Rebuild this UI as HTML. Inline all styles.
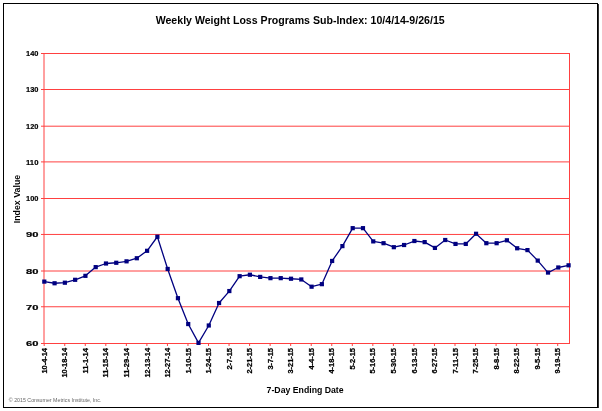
<!DOCTYPE html><html><head><meta charset="utf-8"><style>html,body{margin:0;padding:0;background:#fff;overflow:hidden;}svg{display:block;will-change:transform;font-family:"Liberation Sans",sans-serif;}</style></head><body>
<svg width="602" height="411" viewBox="0 0 602 411">
<rect x="0" y="0" width="602" height="411" fill="#fff"/>
<rect x="3" y="3" width="595" height="1" fill="#000"/>
<rect x="3" y="3" width="1" height="405" fill="#000"/>
<rect x="597" y="3" width="1" height="405" fill="#000"/>
<rect x="598" y="4" width="1" height="404" fill="#333"/>
<rect x="3" y="407" width="595" height="1" fill="#000"/>
<line x1="41" y1="53.50" x2="570.00" y2="53.50" stroke="#ff4040" stroke-width="1"/>
<text x="38.4" y="56.40" font-size="8" font-weight="bold" text-anchor="end" stroke="#000" stroke-width="0.2" textLength="12.4" lengthAdjust="spacingAndGlyphs" fill="#000">140</text>
<line x1="41" y1="89.50" x2="570.00" y2="89.50" stroke="#ff4040" stroke-width="1"/>
<text x="38.4" y="92.40" font-size="8" font-weight="bold" text-anchor="end" stroke="#000" stroke-width="0.2" textLength="12.4" lengthAdjust="spacingAndGlyphs" fill="#000">130</text>
<line x1="41" y1="126.20" x2="570.00" y2="126.20" stroke="#ff4040" stroke-width="1"/>
<text x="38.4" y="129.10" font-size="8" font-weight="bold" text-anchor="end" stroke="#000" stroke-width="0.2" textLength="12.4" lengthAdjust="spacingAndGlyphs" fill="#000">120</text>
<line x1="41" y1="161.90" x2="570.00" y2="161.90" stroke="#ff4040" stroke-width="1"/>
<text x="38.4" y="164.80" font-size="8" font-weight="bold" text-anchor="end" stroke="#000" stroke-width="0.2" textLength="12.4" lengthAdjust="spacingAndGlyphs" fill="#000">110</text>
<line x1="41" y1="198.50" x2="570.00" y2="198.50" stroke="#ff4040" stroke-width="1"/>
<text x="38.4" y="201.40" font-size="8" font-weight="bold" text-anchor="end" stroke="#000" stroke-width="0.2" textLength="12.4" lengthAdjust="spacingAndGlyphs" fill="#000">100</text>
<line x1="41" y1="234.45" x2="570.00" y2="234.45" stroke="#ff4040" stroke-width="1"/>
<text x="38.4" y="237.35" font-size="8" font-weight="bold" text-anchor="end" stroke="#000" stroke-width="0.2" textLength="12.4" lengthAdjust="spacingAndGlyphs" fill="#000">90</text>
<line x1="41" y1="271.00" x2="570.00" y2="271.00" stroke="#ff4040" stroke-width="1"/>
<text x="38.4" y="273.90" font-size="8" font-weight="bold" text-anchor="end" stroke="#000" stroke-width="0.2" textLength="12.4" lengthAdjust="spacingAndGlyphs" fill="#000">80</text>
<line x1="41" y1="306.75" x2="570.00" y2="306.75" stroke="#ff4040" stroke-width="1"/>
<text x="38.4" y="309.65" font-size="8" font-weight="bold" text-anchor="end" stroke="#000" stroke-width="0.2" textLength="12.4" lengthAdjust="spacingAndGlyphs" fill="#000">70</text>
<line x1="41" y1="343.50" x2="570.00" y2="343.50" stroke="#ff4040" stroke-width="1"/>
<text x="38.4" y="346.40" font-size="8" font-weight="bold" text-anchor="end" stroke="#000" stroke-width="0.2" textLength="12.4" lengthAdjust="spacingAndGlyphs" fill="#000">60</text>
<line x1="44.00" y1="53.0" x2="44.00" y2="344.0" stroke="#ff4040" stroke-width="1"/>
<line x1="569.50" y1="53.0" x2="569.50" y2="344.0" stroke="#ff4040" stroke-width="1"/>
<line x1="44.20" y1="343.5" x2="44.20" y2="346" stroke="#ff4040" stroke-width="1"/>
<text transform="translate(46.80,348.0) rotate(-90)" font-size="7.5" font-weight="bold" text-anchor="end" stroke="#000" stroke-width="0.25" textLength="25.60" lengthAdjust="spacingAndGlyphs" fill="#000">10-4-14</text>
<line x1="64.74" y1="343.5" x2="64.74" y2="346" stroke="#ff4040" stroke-width="1"/>
<text transform="translate(67.34,348.0) rotate(-90)" font-size="7.5" font-weight="bold" text-anchor="end" stroke="#000" stroke-width="0.25" textLength="29.60" lengthAdjust="spacingAndGlyphs" fill="#000">10-18-14</text>
<line x1="85.28" y1="343.5" x2="85.28" y2="346" stroke="#ff4040" stroke-width="1"/>
<text transform="translate(87.88,348.0) rotate(-90)" font-size="7.5" font-weight="bold" text-anchor="end" stroke="#000" stroke-width="0.25" textLength="25.60" lengthAdjust="spacingAndGlyphs" fill="#000">11-1-14</text>
<line x1="105.82" y1="343.5" x2="105.82" y2="346" stroke="#ff4040" stroke-width="1"/>
<text transform="translate(108.42,348.0) rotate(-90)" font-size="7.5" font-weight="bold" text-anchor="end" stroke="#000" stroke-width="0.25" textLength="29.60" lengthAdjust="spacingAndGlyphs" fill="#000">11-15-14</text>
<line x1="126.36" y1="343.5" x2="126.36" y2="346" stroke="#ff4040" stroke-width="1"/>
<text transform="translate(128.96,348.0) rotate(-90)" font-size="7.5" font-weight="bold" text-anchor="end" stroke="#000" stroke-width="0.25" textLength="29.60" lengthAdjust="spacingAndGlyphs" fill="#000">11-29-14</text>
<line x1="146.90" y1="343.5" x2="146.90" y2="346" stroke="#ff4040" stroke-width="1"/>
<text transform="translate(149.50,348.0) rotate(-90)" font-size="7.5" font-weight="bold" text-anchor="end" stroke="#000" stroke-width="0.25" textLength="29.60" lengthAdjust="spacingAndGlyphs" fill="#000">12-13-14</text>
<line x1="167.44" y1="343.5" x2="167.44" y2="346" stroke="#ff4040" stroke-width="1"/>
<text transform="translate(170.04,348.0) rotate(-90)" font-size="7.5" font-weight="bold" text-anchor="end" stroke="#000" stroke-width="0.25" textLength="29.60" lengthAdjust="spacingAndGlyphs" fill="#000">12-27-14</text>
<line x1="187.98" y1="343.5" x2="187.98" y2="346" stroke="#ff4040" stroke-width="1"/>
<text transform="translate(190.58,348.0) rotate(-90)" font-size="7.5" font-weight="bold" text-anchor="end" stroke="#000" stroke-width="0.25" textLength="25.60" lengthAdjust="spacingAndGlyphs" fill="#000">1-10-15</text>
<line x1="208.52" y1="343.5" x2="208.52" y2="346" stroke="#ff4040" stroke-width="1"/>
<text transform="translate(211.12,348.0) rotate(-90)" font-size="7.5" font-weight="bold" text-anchor="end" stroke="#000" stroke-width="0.25" textLength="25.60" lengthAdjust="spacingAndGlyphs" fill="#000">1-24-15</text>
<line x1="229.06" y1="343.5" x2="229.06" y2="346" stroke="#ff4040" stroke-width="1"/>
<text transform="translate(231.66,348.0) rotate(-90)" font-size="7.5" font-weight="bold" text-anchor="end" stroke="#000" stroke-width="0.25" textLength="21.60" lengthAdjust="spacingAndGlyphs" fill="#000">2-7-15</text>
<line x1="249.60" y1="343.5" x2="249.60" y2="346" stroke="#ff4040" stroke-width="1"/>
<text transform="translate(252.20,348.0) rotate(-90)" font-size="7.5" font-weight="bold" text-anchor="end" stroke="#000" stroke-width="0.25" textLength="25.60" lengthAdjust="spacingAndGlyphs" fill="#000">2-21-15</text>
<line x1="270.14" y1="343.5" x2="270.14" y2="346" stroke="#ff4040" stroke-width="1"/>
<text transform="translate(272.74,348.0) rotate(-90)" font-size="7.5" font-weight="bold" text-anchor="end" stroke="#000" stroke-width="0.25" textLength="21.60" lengthAdjust="spacingAndGlyphs" fill="#000">3-7-15</text>
<line x1="290.68" y1="343.5" x2="290.68" y2="346" stroke="#ff4040" stroke-width="1"/>
<text transform="translate(293.28,348.0) rotate(-90)" font-size="7.5" font-weight="bold" text-anchor="end" stroke="#000" stroke-width="0.25" textLength="25.60" lengthAdjust="spacingAndGlyphs" fill="#000">3-21-15</text>
<line x1="311.22" y1="343.5" x2="311.22" y2="346" stroke="#ff4040" stroke-width="1"/>
<text transform="translate(313.82,348.0) rotate(-90)" font-size="7.5" font-weight="bold" text-anchor="end" stroke="#000" stroke-width="0.25" textLength="21.60" lengthAdjust="spacingAndGlyphs" fill="#000">4-4-15</text>
<line x1="331.76" y1="343.5" x2="331.76" y2="346" stroke="#ff4040" stroke-width="1"/>
<text transform="translate(334.36,348.0) rotate(-90)" font-size="7.5" font-weight="bold" text-anchor="end" stroke="#000" stroke-width="0.25" textLength="25.60" lengthAdjust="spacingAndGlyphs" fill="#000">4-18-15</text>
<line x1="352.30" y1="343.5" x2="352.30" y2="346" stroke="#ff4040" stroke-width="1"/>
<text transform="translate(354.90,348.0) rotate(-90)" font-size="7.5" font-weight="bold" text-anchor="end" stroke="#000" stroke-width="0.25" textLength="21.60" lengthAdjust="spacingAndGlyphs" fill="#000">5-2-15</text>
<line x1="372.84" y1="343.5" x2="372.84" y2="346" stroke="#ff4040" stroke-width="1"/>
<text transform="translate(375.44,348.0) rotate(-90)" font-size="7.5" font-weight="bold" text-anchor="end" stroke="#000" stroke-width="0.25" textLength="25.60" lengthAdjust="spacingAndGlyphs" fill="#000">5-16-15</text>
<line x1="393.38" y1="343.5" x2="393.38" y2="346" stroke="#ff4040" stroke-width="1"/>
<text transform="translate(395.98,348.0) rotate(-90)" font-size="7.5" font-weight="bold" text-anchor="end" stroke="#000" stroke-width="0.25" textLength="25.60" lengthAdjust="spacingAndGlyphs" fill="#000">5-30-15</text>
<line x1="413.92" y1="343.5" x2="413.92" y2="346" stroke="#ff4040" stroke-width="1"/>
<text transform="translate(416.52,348.0) rotate(-90)" font-size="7.5" font-weight="bold" text-anchor="end" stroke="#000" stroke-width="0.25" textLength="25.60" lengthAdjust="spacingAndGlyphs" fill="#000">6-13-15</text>
<line x1="434.46" y1="343.5" x2="434.46" y2="346" stroke="#ff4040" stroke-width="1"/>
<text transform="translate(437.06,348.0) rotate(-90)" font-size="7.5" font-weight="bold" text-anchor="end" stroke="#000" stroke-width="0.25" textLength="25.60" lengthAdjust="spacingAndGlyphs" fill="#000">6-27-15</text>
<line x1="455.00" y1="343.5" x2="455.00" y2="346" stroke="#ff4040" stroke-width="1"/>
<text transform="translate(457.60,348.0) rotate(-90)" font-size="7.5" font-weight="bold" text-anchor="end" stroke="#000" stroke-width="0.25" textLength="25.60" lengthAdjust="spacingAndGlyphs" fill="#000">7-11-15</text>
<line x1="475.54" y1="343.5" x2="475.54" y2="346" stroke="#ff4040" stroke-width="1"/>
<text transform="translate(478.14,348.0) rotate(-90)" font-size="7.5" font-weight="bold" text-anchor="end" stroke="#000" stroke-width="0.25" textLength="25.60" lengthAdjust="spacingAndGlyphs" fill="#000">7-25-15</text>
<line x1="496.08" y1="343.5" x2="496.08" y2="346" stroke="#ff4040" stroke-width="1"/>
<text transform="translate(498.68,348.0) rotate(-90)" font-size="7.5" font-weight="bold" text-anchor="end" stroke="#000" stroke-width="0.25" textLength="21.60" lengthAdjust="spacingAndGlyphs" fill="#000">8-8-15</text>
<line x1="516.62" y1="343.5" x2="516.62" y2="346" stroke="#ff4040" stroke-width="1"/>
<text transform="translate(519.22,348.0) rotate(-90)" font-size="7.5" font-weight="bold" text-anchor="end" stroke="#000" stroke-width="0.25" textLength="25.60" lengthAdjust="spacingAndGlyphs" fill="#000">8-22-15</text>
<line x1="537.16" y1="343.5" x2="537.16" y2="346" stroke="#ff4040" stroke-width="1"/>
<text transform="translate(539.76,348.0) rotate(-90)" font-size="7.5" font-weight="bold" text-anchor="end" stroke="#000" stroke-width="0.25" textLength="21.60" lengthAdjust="spacingAndGlyphs" fill="#000">9-5-15</text>
<line x1="557.70" y1="343.5" x2="557.70" y2="346" stroke="#ff4040" stroke-width="1"/>
<text transform="translate(560.30,348.0) rotate(-90)" font-size="7.5" font-weight="bold" text-anchor="end" stroke="#000" stroke-width="0.25" textLength="25.60" lengthAdjust="spacingAndGlyphs" fill="#000">9-19-15</text>
<polyline points="44.30,281.62 54.58,283.26 64.86,282.71 75.14,279.81 85.42,275.83 95.70,267.12 105.98,263.50 116.26,262.77 126.54,261.33 136.82,258.24 147.10,250.81 157.38,236.75 167.66,268.94 177.94,298.19 188.22,324.04 198.50,342.89 208.78,325.49 219.06,303.01 229.34,291.05 239.62,276.19 249.90,274.74 260.18,276.91 270.46,278.15 280.74,278.15 291.02,278.73 301.30,279.45 311.58,286.70 321.86,284.16 332.14,260.96 342.42,246.10 352.70,228.16 362.98,228.16 373.26,241.39 383.54,243.20 393.82,247.19 404.10,245.01 414.38,241.02 424.66,242.11 434.94,247.91 445.22,240.01 455.50,243.92 465.78,243.92 476.06,233.77 486.34,243.20 496.62,243.20 506.90,240.30 517.18,248.27 527.46,250.09 537.74,260.60 548.02,272.56 558.30,267.49 568.58,265.31" fill="none" stroke="#000080" stroke-width="1.3" stroke-linejoin="round"/>
<rect x="42.20" y="279.52" width="4.2" height="4.2" fill="#000080"/>
<rect x="52.48" y="281.16" width="4.2" height="4.2" fill="#000080"/>
<rect x="62.76" y="280.61" width="4.2" height="4.2" fill="#000080"/>
<rect x="73.04" y="277.71" width="4.2" height="4.2" fill="#000080"/>
<rect x="83.32" y="273.73" width="4.2" height="4.2" fill="#000080"/>
<rect x="93.60" y="265.02" width="4.2" height="4.2" fill="#000080"/>
<rect x="103.88" y="261.40" width="4.2" height="4.2" fill="#000080"/>
<rect x="114.16" y="260.67" width="4.2" height="4.2" fill="#000080"/>
<rect x="124.44" y="259.23" width="4.2" height="4.2" fill="#000080"/>
<rect x="134.72" y="256.14" width="4.2" height="4.2" fill="#000080"/>
<rect x="145.00" y="248.71" width="4.2" height="4.2" fill="#000080"/>
<rect x="155.28" y="234.65" width="4.2" height="4.2" fill="#000080"/>
<rect x="165.56" y="266.84" width="4.2" height="4.2" fill="#000080"/>
<rect x="175.84" y="296.09" width="4.2" height="4.2" fill="#000080"/>
<rect x="186.12" y="321.94" width="4.2" height="4.2" fill="#000080"/>
<rect x="196.40" y="340.79" width="4.2" height="4.2" fill="#000080"/>
<rect x="206.68" y="323.39" width="4.2" height="4.2" fill="#000080"/>
<rect x="216.96" y="300.91" width="4.2" height="4.2" fill="#000080"/>
<rect x="227.24" y="288.95" width="4.2" height="4.2" fill="#000080"/>
<rect x="237.52" y="274.09" width="4.2" height="4.2" fill="#000080"/>
<rect x="247.80" y="272.64" width="4.2" height="4.2" fill="#000080"/>
<rect x="258.08" y="274.81" width="4.2" height="4.2" fill="#000080"/>
<rect x="268.36" y="276.05" width="4.2" height="4.2" fill="#000080"/>
<rect x="278.64" y="276.05" width="4.2" height="4.2" fill="#000080"/>
<rect x="288.92" y="276.62" width="4.2" height="4.2" fill="#000080"/>
<rect x="299.20" y="277.35" width="4.2" height="4.2" fill="#000080"/>
<rect x="309.48" y="284.60" width="4.2" height="4.2" fill="#000080"/>
<rect x="319.76" y="282.06" width="4.2" height="4.2" fill="#000080"/>
<rect x="330.04" y="258.86" width="4.2" height="4.2" fill="#000080"/>
<rect x="340.32" y="244.00" width="4.2" height="4.2" fill="#000080"/>
<rect x="350.60" y="226.06" width="4.2" height="4.2" fill="#000080"/>
<rect x="360.88" y="226.06" width="4.2" height="4.2" fill="#000080"/>
<rect x="371.16" y="239.29" width="4.2" height="4.2" fill="#000080"/>
<rect x="381.44" y="241.10" width="4.2" height="4.2" fill="#000080"/>
<rect x="391.72" y="245.09" width="4.2" height="4.2" fill="#000080"/>
<rect x="402.00" y="242.91" width="4.2" height="4.2" fill="#000080"/>
<rect x="412.28" y="238.92" width="4.2" height="4.2" fill="#000080"/>
<rect x="422.56" y="240.01" width="4.2" height="4.2" fill="#000080"/>
<rect x="432.84" y="245.81" width="4.2" height="4.2" fill="#000080"/>
<rect x="443.12" y="237.91" width="4.2" height="4.2" fill="#000080"/>
<rect x="453.40" y="241.82" width="4.2" height="4.2" fill="#000080"/>
<rect x="463.68" y="241.82" width="4.2" height="4.2" fill="#000080"/>
<rect x="473.96" y="231.67" width="4.2" height="4.2" fill="#000080"/>
<rect x="484.24" y="241.10" width="4.2" height="4.2" fill="#000080"/>
<rect x="494.52" y="241.10" width="4.2" height="4.2" fill="#000080"/>
<rect x="504.80" y="238.20" width="4.2" height="4.2" fill="#000080"/>
<rect x="515.08" y="246.17" width="4.2" height="4.2" fill="#000080"/>
<rect x="525.36" y="247.99" width="4.2" height="4.2" fill="#000080"/>
<rect x="535.64" y="258.50" width="4.2" height="4.2" fill="#000080"/>
<rect x="545.92" y="270.46" width="4.2" height="4.2" fill="#000080"/>
<rect x="556.20" y="265.39" width="4.2" height="4.2" fill="#000080"/>
<rect x="566.48" y="263.21" width="4.2" height="4.2" fill="#000080"/>
<text x="300.2" y="24.4" font-size="10.9" font-weight="bold" text-anchor="middle" textLength="289" lengthAdjust="spacingAndGlyphs" fill="#000">Weekly Weight Loss Programs Sub-Index: 10/4/14-9/26/15</text>
<text x="305.1" y="393" font-size="9.5" font-weight="bold" text-anchor="middle" textLength="77" lengthAdjust="spacingAndGlyphs" fill="#000">7-Day Ending Date</text>
<text transform="translate(20,199.0) rotate(-90)" font-size="9.5" font-weight="bold" text-anchor="middle" textLength="48.5" lengthAdjust="spacingAndGlyphs" fill="#000">Index Value</text>
<text x="8.8" y="402" font-size="5.5" textLength="92.6" lengthAdjust="spacingAndGlyphs" fill="#666">© 2015 Consumer Metrics Institute, Inc.</text>
</svg></body></html>
